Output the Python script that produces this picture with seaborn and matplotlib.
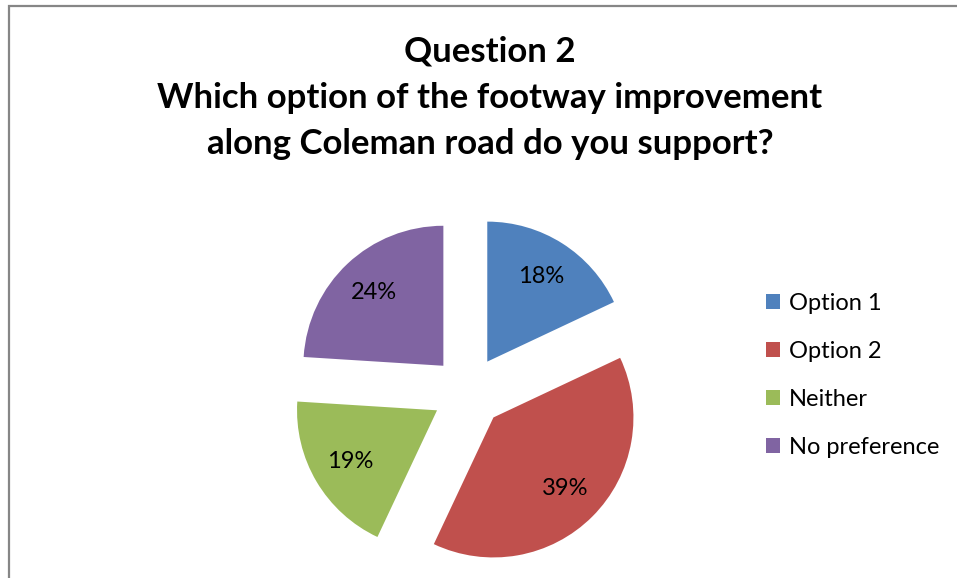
import matplotlib
matplotlib.use("Agg")
import matplotlib.pyplot as plt
from matplotlib.patches import Rectangle
import seaborn as sns

# Survey responses (percent of respondents)
categories = ["Option 1", "Option 2", "Neither", "No preference"]
shares = [18, 39, 19, 24]
colors = ["#4F81BD", "#C0504D", "#9BBB59", "#8064A2"]
title_lines = [
    "Question 2",
    "Which option of the footway improvement",
    "along Coleman road do you support?",
]

sns.set_theme(style="white")
plt.rcParams["font.family"] = ["Lato", "DejaVu Sans"]
plt.rcParams["text.color"] = "black"

W, H, DPI = 957, 578, 100
fig = plt.figure(figsize=(W / DPI, H / DPI), dpi=DPI)
fig.patch.set_facecolor("white")

# Chart-area frame (runs off the right and bottom edges)
fig.add_artist(Rectangle((9 / W, -0.1), 1.2, 1 - 6 / H + 0.1,
                         transform=fig.transFigure, fill=False,
                         edgecolor="#868686", linewidth=1.6))

# Pie axes: radius 140 px, centred at (468, 392) px
R = 140
cx, cy = 468, 392
lim = 1.5
side = 2 * lim * R
ax = fig.add_axes([(cx - side / 2) / W, (H - cy - side / 2) / H, side / W, side / H])

palette = sns.color_palette(colors)
wedges, texts, autotexts = ax.pie(
    shares,
    colors=palette,
    startangle=90,
    counterclock=False,
    explode=[0.257] * len(shares),
    autopct=lambda p: f"{p:.0f}%",
    pctdistance=0.72,
    textprops=dict(fontsize=17, color="black"),
    wedgeprops=dict(linewidth=0),
)
ax.set_xlim(-lim, lim)
ax.set_ylim(-lim, lim)
ax.set_aspect("equal")
ax.axis("off")

fig.suptitle("\n".join(title_lines), x=490 / W, y=1 - 98 / H, va="center",
             fontsize=25, fontweight="bold", linespacing=1.55, color="black")

fig.legend(wedges, categories, loc="upper left",
           bbox_to_anchor=(766 / W, 1 - 293 / H),
           frameon=False, fontsize=17,
           handlelength=0.58, handleheight=0.58, handletextpad=0.38,
           labelspacing=1.14, borderaxespad=0, borderpad=0)

fig.savefig("out.png", dpi=DPI, facecolor="white")
